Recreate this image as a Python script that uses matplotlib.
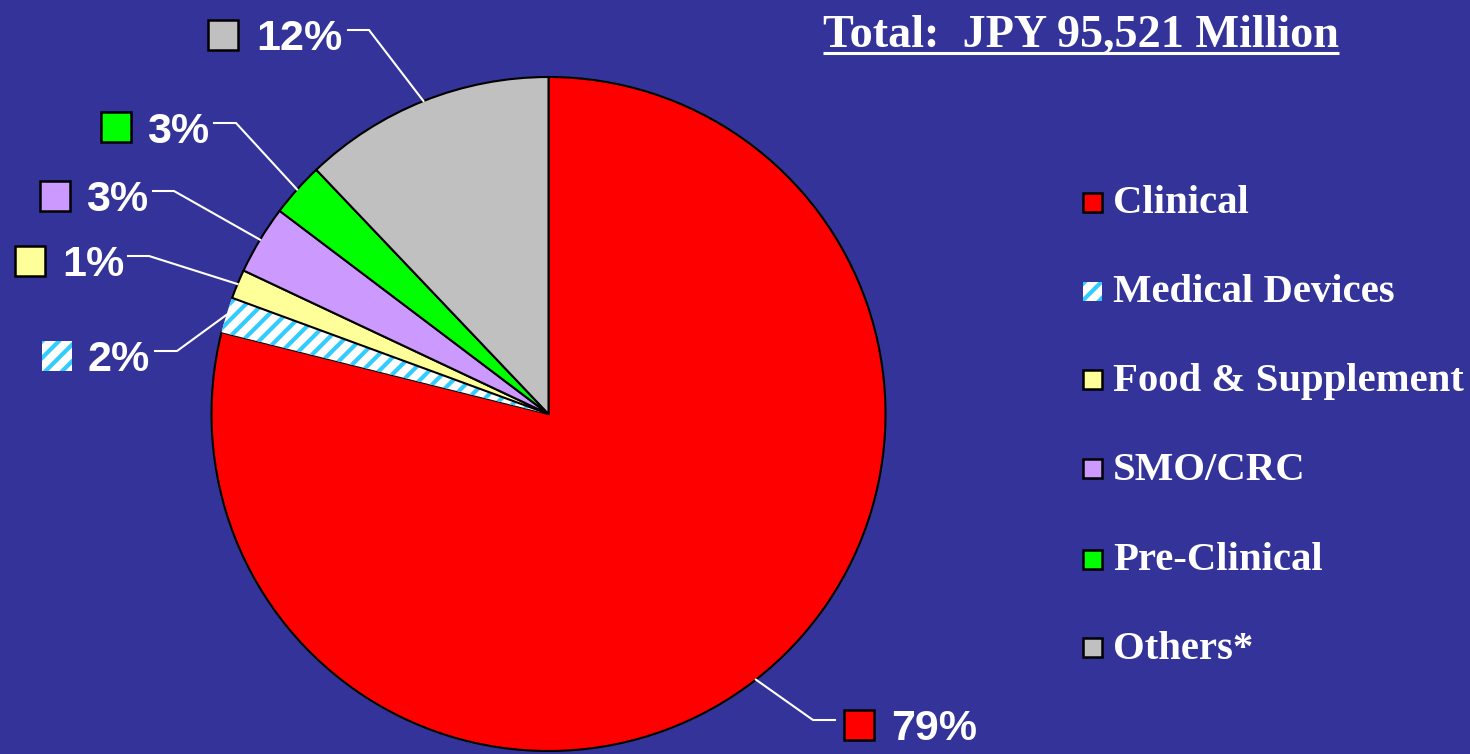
import numpy as np
import matplotlib
matplotlib.use("Agg")
import matplotlib.pyplot as plt
from matplotlib.patches import Rectangle
from matplotlib import font_manager

# ---- data ----
categories = ['Clinical', 'Medical Devices', 'Food & Supplement', 'SMO/CRC', 'Pre-Clinical', 'Others*']
shares = [78.9, 1.7, 1.4, 3.3, 2.6, 12.1]
pct_labels = ['79%', '2%', '1%', '3%', '3%', '12%']
colors = ['#FF0000', '#FFFFFF', '#FFFF99', '#CC99FF', '#00FF00', '#C0C0C0']
hatched = [False, True, False, False, False, False]
title_text = 'Total:  JPY 95,521 Million'

BG = '#333399'
HATCH_C = '#33CCFF'
W, H = 1470, 754

names = {f.name for f in font_manager.fontManager.ttflist}
narrow = [n for n in ['Liberation Sans Narrow', 'DejaVu Sans Condensed'] if n in names]
if narrow:
    pct_family = [narrow[0], 'DejaVu Sans']
    pct_size = 35
else:
    pct_family = ['Liberation Sans', 'DejaVu Sans']
    pct_size = 31

plt.rcParams['hatch.linewidth'] = 3.0

fig = plt.figure(figsize=(W / 100, H / 100), dpi=100, facecolor=BG)
ax = fig.add_axes([0, 0, 1, 1])
ax.set_facecolor(BG)


def Y(y):
    return H - y


cx, cy, R = 548.5, 414, 337
wedges, _ = ax.pie(shares, colors=colors, startangle=90, counterclock=False,
                   center=(cx, Y(cy)), radius=R, frame=True,
                   wedgeprops=dict(edgecolor='black', linewidth=1.5))
for w, h in zip(wedges, hatched):
    if h:
        w.set_facecolor('white')
        w.set_edgecolor(HATCH_C)
        w.set_hatch('//')
        w.set_linewidth(0)

ax.set_xlim(0, W)
ax.set_ylim(0, H)
ax.set_aspect('auto')
ax.axis('off')

# ---- data labels layout (pixel positions, top-down y) ----
# (box_x0, box_y0, text_x, baseline, elbow_x, elbow_y, end_x)
label_layout = [
    (844, 710, 891, 740, 813, 720, 835),    # Clinical
    (42, 341, 88, 371, 177, 351, 155),      # Medical Devices
    (15, 246, 62, 276, 149, 256, 128),      # Food
    (40, 181, 86, 211, 174, 191, 153),      # SMO
    (101, 112, 147, 143, 236, 123, 214),    # Pre-Clinical
    (208, 20, 256, 50, 369, 30, 348),       # Others
]
BOX = 30
for w, lab, col, h, lay in zip(wedges, pct_labels, colors, hatched, label_layout):
    bx, by, tx, tb, ex, ey, endx = lay
    mid = np.deg2rad((w.theta1 + w.theta2) / 2)
    px = cx + R * np.cos(mid)
    py = Y(cy) + R * np.sin(mid)
    ax.plot([px, ex, endx], [py, Y(ey), Y(ey)], color='white', lw=1.5,
            solid_joinstyle='miter', zorder=3)
    if h:
        ax.add_patch(Rectangle((bx, Y(by + BOX)), BOX, BOX, facecolor='white',
                               edgecolor=HATCH_C, hatch='//', lw=0, zorder=3))
    else:
        ax.add_patch(Rectangle((bx, Y(by + BOX)), BOX, BOX, facecolor=col,
                               edgecolor='black', lw=1.8, zorder=3))
    ax.text(tx, Y(tb), lab, color='white', fontsize=pct_size, fontweight='bold',
            family=pct_family, ha='left', va='baseline', zorder=4)

# ---- legend ----
leg_centers = [202, 291.3, 379.7, 468.8, 559, 647.8]
LB = 19
for name, col, h, yc in zip(categories, colors, hatched, leg_centers):
    if h:
        ax.add_patch(Rectangle((1083, Y(yc + LB / 2)), LB, LB, facecolor='white',
                               edgecolor=HATCH_C, hatch='//', lw=0, zorder=3))
    else:
        ax.add_patch(Rectangle((1083, Y(yc + LB / 2)), LB, LB, facecolor=col,
                               edgecolor='black', lw=1.8, zorder=3))
    ax.text(1113, Y(yc + 11), name, color='white', fontsize=29.3, fontweight='bold',
            family=['Liberation Serif', 'DejaVu Serif'], ha='left', va='baseline')

# ---- title with underline ----
t = ax.text(823, Y(47), title_text, color='white', fontsize=33.3, fontweight='bold',
            family=['Liberation Serif', 'DejaVu Serif'], ha='left', va='baseline')
fig.canvas.draw()
bb = t.get_window_extent()
ax.plot([bb.x0, bb.x1], [Y(53), Y(53)], color='white', lw=2.2, solid_capstyle='butt')

fig.savefig('out.png', dpi=100, facecolor=BG)
